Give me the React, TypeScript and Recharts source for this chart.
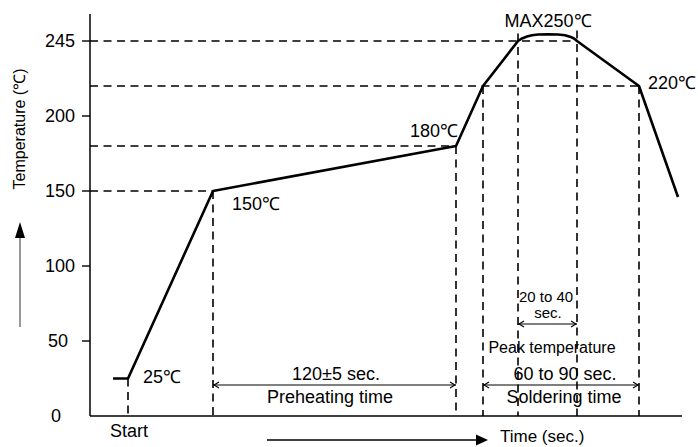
import React from 'react';
import { LineChart, Line, XAxis, YAxis, ReferenceLine, ReferenceDot } from 'recharts';

// reflow profile, time in sec, temperature in ℃ (as drawn)
const times = [11.5, 19, 61.5, 183, 196.5, 214, 216, 218.5, 221, 224, 229, 234, 237.5, 240, 242, 243.5, 274.5, 294];
const temps = [25, 25, 150, 180, 220, 250, 251.7, 253, 253.8, 254.3, 254.5, 254.3, 253.8, 252.9, 251.7, 250, 220, 146];

const yTicks = [0, 50, 100, 150, 200, 250];
const yTickLabels = ['0', '50', '100', '150', '200', '245'];

// dashed guides: level -> where it meets the curve
const levelGuides = [
  { temp: 250, t: 243.5 },
  { temp: 220, t: 274.5 },
  { temp: 180, t: 183 },
  { temp: 150, t: 61.5 },
];
const timeGuides = [
  { t: 19, top: 25 },
  { t: 61.5, top: 150 },
  { t: 183, top: 180 },
  { t: 196.5, top: 220 },
  { t: 214, top: 255 },
  { t: 243.5, top: 257 },
  { t: 274.5, top: 220 },
];

// spans with double arrows
const spans = [
  { from: 61.5, to: 183, at: 20.7 },
  { from: 196.5, to: 274.5, at: 20.7 },
  { from: 214, to: 243.5, at: 61.3 },
];

const notes = [
  { text: 'MAX250℃', t: 229, temp: 259.5, anchor: 'middle', size: 18 },
  { text: '220℃', t: 279, temp: 218, anchor: 'start', size: 18 },
  { text: '180℃', t: 184, temp: 186, anchor: 'end', size: 18 },
  { text: '150℃', t: 71, temp: 137.3, anchor: 'start', size: 18 },
  { text: '25℃', t: 26.5, temp: 22, anchor: 'start', size: 18 },
  { text: 'Start', t: 19.5, temp: -14, anchor: 'middle', size: 18 },
  { text: '120±5 sec.', t: 123, temp: 24, anchor: 'middle', size: 18 },
  { text: 'Preheating time', t: 120, temp: 8.7, anchor: 'middle', size: 18 },
  { text: '60 to 90 sec.', t: 237.5, temp: 24, anchor: 'middle', size: 18 },
  { text: 'Soldering time', t: 237, temp: 8.7, anchor: 'middle', size: 18 },
  { text: 'Peak temperature', t: 231, temp: 42, anchor: 'middle', size: 16 },
  { text: '20 to 40', t: 228, temp: 76, anchor: 'middle', size: 15 },
  { text: 'sec.', t: 229, temp: 65.3, anchor: 'middle', size: 15 },
  { text: 'Time (sec.)', t: 205, temp: -17.5, anchor: 'start', size: 17 },
];

const data = times.map((t, i) => ({ t, temp: temps[i] }));

const FONT = '"Liberation Sans", Arial, Helvetica, sans-serif';
const DASH = '8 5.5';

function YTick({ x, y, payload }: any) {
  const v = payload.value;
  const shift = v === 0 ? -14 : v === 50 ? -7 : 0;
  return (
    <g>
      {v !== 0 && <line x1={x + 7} x2={x + 15} y1={y} y2={y} stroke="#000" strokeWidth={1.4} />}
      <text x={x + shift} y={y} dy="0.36em" textAnchor="end" fontSize={18} fill="#000" fontFamily={FONT}>
        {yTickLabels[yTicks.indexOf(v)]}
      </text>
    </g>
  );
}

function YTitle() {
  return (
    <g>
      <text transform="translate(25,129) rotate(-90)" textAnchor="middle" fontSize={16} fill="#000" fontFamily={FONT}>
        Temperature (℃)
      </text>
      <line x1={20} y1={327} x2={20} y2={236} stroke="#777" strokeWidth={1.5} />
      <polygon points="20,222 15,238 25,238" fill="#000" />
    </g>
  );
}

const spanArrow = (p: any) => {
  const { x1, y1, x2, y2 } = p;
  return (
    <g stroke="#000" strokeWidth={1.1} fill="none">
      <line x1={x1} y1={y1} x2={x2} y2={y2} />
      <polyline points={`${x1 + 6},${y1 - 3} ${x1 + 1},${y1} ${x1 + 6},${y1 + 3}`} />
      <polyline points={`${x2 - 6},${y2 - 3} ${x2 - 1},${y2} ${x2 - 6},${y2 + 3}`} />
    </g>
  );
};

const timeArrow = (p: any) => (
  <g>
    <line x1={p.x1} y1={p.y1} x2={p.x2 - 10} y2={p.y2} stroke="#000" strokeWidth={1.5} />
    <polygon points={`${p.x2},${p.y2} ${p.x2 - 12},${p.y2 - 5.5} ${p.x2 - 12},${p.y2 + 5.5}`} fill="#000" />
  </g>
);

export default function App() {
  return (
    <div style={{ position: 'absolute', left: 0, top: 0, width: 698, height: 447, background: '#fff', fontFamily: FONT }}>
      <LineChart width={698} height={447} data={data} margin={{ top: 14, right: 16, bottom: 0, left: 0 }}>
        <XAxis
          dataKey="t"
          type="number"
          domain={[0, 296]}
          tick={false}
          tickLine={false}
          height={31}
          axisLine={{ stroke: '#000', strokeWidth: 1.5 }}
        />
        <YAxis
          type="number"
          domain={[0, 268]}
          ticks={yTicks}
          width={90}
          tickSize={8}
          tickMargin={7}
          tickLine={false}
          tick={<YTick />}
          axisLine={{ stroke: '#000', strokeWidth: 1.5 }}
          label={<YTitle />}
        />
        {levelGuides.map((g, i) => (
          <ReferenceLine
            key={'h' + i}
            segment={[{ x: 0, y: g.temp }, { x: g.t, y: g.temp }]}
            stroke="#000"
            strokeWidth={1.6}
            strokeDasharray={DASH}
            ifOverflow="visible"
          />
        ))}
        {timeGuides.map((g, i) => (
          <ReferenceLine
            key={'v' + i}
            segment={[{ x: g.t, y: g.top }, { x: g.t, y: 0 }]}
            stroke="#000"
            strokeWidth={1.6}
            strokeDasharray={DASH}
            ifOverflow="visible"
          />
        ))}
        {spans.map((s, i) => (
          <ReferenceLine
            key={'s' + i}
            segment={[{ x: s.from, y: s.at }, { x: s.to, y: s.at }]}
            shape={spanArrow}
            ifOverflow="visible"
          />
        ))}
        <ReferenceLine
          segment={[{ x: 88.5, y: -16 }, { x: 199, y: -16 }]}
          shape={timeArrow}
          ifOverflow="visible"
        />
        <Line
          type="linear"
          dataKey="temp"
          stroke="#000"
          strokeWidth={2.6}
          strokeLinejoin="round"
          dot={false}
          isAnimationActive={false}
        />
        {notes.map((n, i) => (
          <ReferenceDot
            key={'n' + i}
            x={n.t}
            y={n.temp}
            ifOverflow="visible"
            shape={(p: any) => (
              <text x={p.cx} y={p.cy} textAnchor={n.anchor} fontSize={n.size} fill="#000" fontFamily={FONT}>
                {n.text}
              </text>
            )}
          />
        ))}
      </LineChart>
    </div>
  );
}
